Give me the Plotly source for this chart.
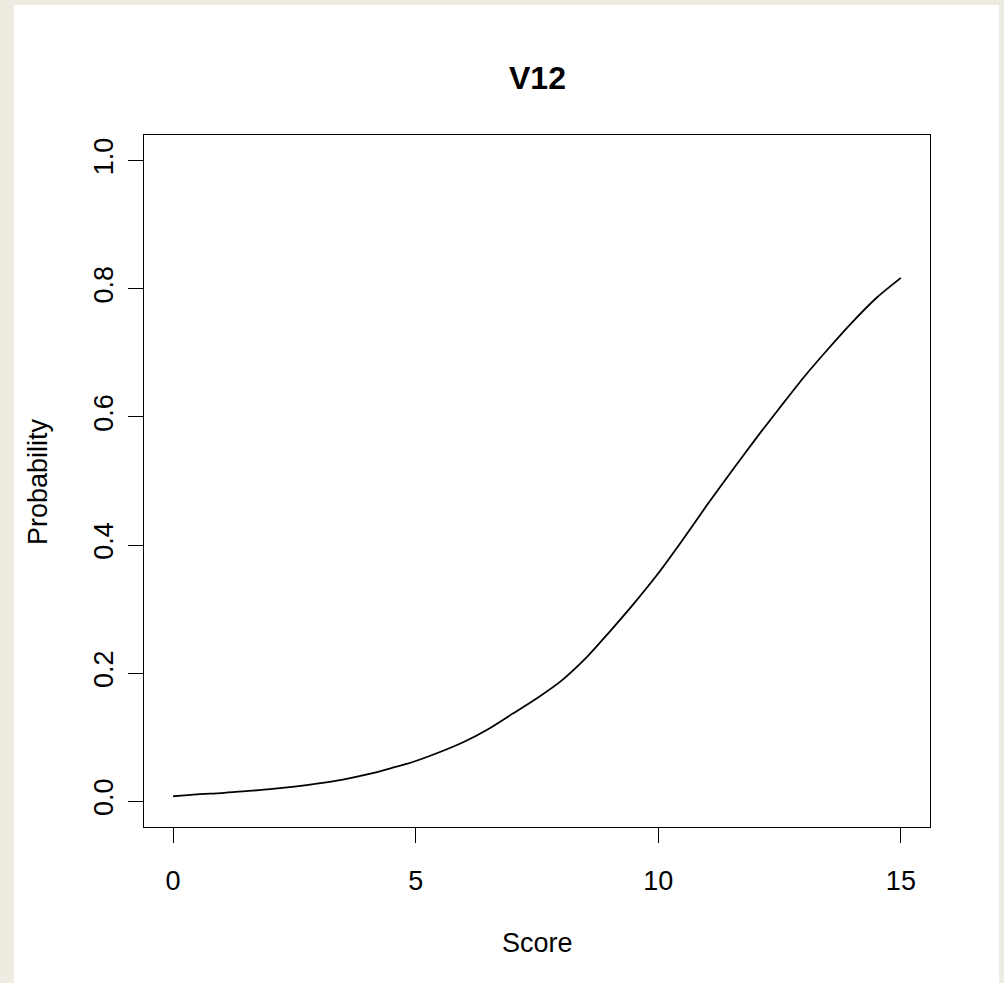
import plotly.graph_objects as go

# Data
score = [0.0, 0.5, 1.0, 1.5, 2.0, 2.5, 3.0, 3.5, 4.0, 4.5, 5.0, 5.5, 6.0, 6.5, 7.0, 7.5,
         8.0, 8.5, 9.0, 9.5, 10.0, 10.5, 11.0, 11.5, 12.0, 12.5, 13.0, 13.5, 14.0, 14.5, 15.0]
probability = [0.008, 0.011, 0.013, 0.016, 0.019, 0.023, 0.028, 0.034, 0.042, 0.052, 0.063,
               0.077, 0.093, 0.113, 0.137, 0.161, 0.188, 0.223, 0.265, 0.309, 0.356, 0.408,
               0.462, 0.514, 0.565, 0.614, 0.662, 0.706, 0.748, 0.786, 0.817]
x_ticks = [0, 5, 10, 15]
x_tick_labels = ["0", "5", "10", "15"]
y_ticks = [0.0, 0.2, 0.4, 0.6, 0.8, 1.0]
y_tick_labels = ["0.0", "0.2", "0.4", "0.6", "0.8", "1.0"]
title_text = "V12"
x_title = "Score"
y_title = "Probability"

FONT = "Liberation Sans, Arial, Helvetica, sans-serif"
W, H = 1004, 983
ML, MR, MT, MB = 144, 74, 135, 156
PW, PH = W - ML - MR, H - MT - MB


def px_x(px):
    return (px - ML) / PW


def px_y(py):
    return (H - MB - py) / PH


fig = go.Figure()
fig.add_trace(go.Scatter(x=score, y=probability, mode="lines",
                         line=dict(color="black", width=1.8, shape="spline", smoothing=0.8),
                         hoverinfo="skip", showlegend=False))

axis_common = dict(showline=True, mirror=True, linecolor="black", linewidth=1.3,
                   ticks="outside", ticklen=15, tickwidth=1.3, tickcolor="black",
                   showgrid=False, zeroline=False,
                   tickfont=dict(family=FONT, size=27, color="black"))

fig.update_xaxes(range=[-0.6, 15.6], tickvals=x_ticks, ticktext=x_tick_labels,
                 ticklabelstandoff=14, **axis_common)
fig.update_yaxes(range=[-0.04, 1.04], tickvals=y_ticks, ticktext=y_tick_labels,
                 tickangle=-90, ticklabelstandoff=4, **axis_common)

fig.add_shape(type="rect", xref="paper", yref="paper",
              x0=px_x(14), x1=px_x(999), y0=px_y(990), y1=px_y(5),
              fillcolor="white", line=dict(width=0), layer="below")

fig.add_annotation(text="<b>%s</b>" % title_text, xref="paper", yref="paper",
                   x=0.5, y=px_y(78), xanchor="center", yanchor="middle",
                   showarrow=False, font=dict(family=FONT, size=32, color="black"))
fig.add_annotation(text=x_title, xref="paper", yref="paper",
                   x=0.5, y=px_y(943), xanchor="center", yanchor="middle",
                   showarrow=False, font=dict(family=FONT, size=27, color="black"))
fig.add_annotation(text=y_title, xref="paper", yref="paper",
                   x=px_x(38), y=0.5, xanchor="center", yanchor="middle", textangle=-90,
                   showarrow=False, font=dict(family=FONT, size=27, color="black"))

fig.update_layout(width=W, height=H, margin=dict(l=ML, r=MR, t=MT, b=MB),
                  paper_bgcolor="#EEEBE1", plot_bgcolor="white", showlegend=False)

fig.write_html("out.html", config={"displayModeBar": False},
               post_script="document.body.style.margin='0px';document.body.style.padding='0px';")
